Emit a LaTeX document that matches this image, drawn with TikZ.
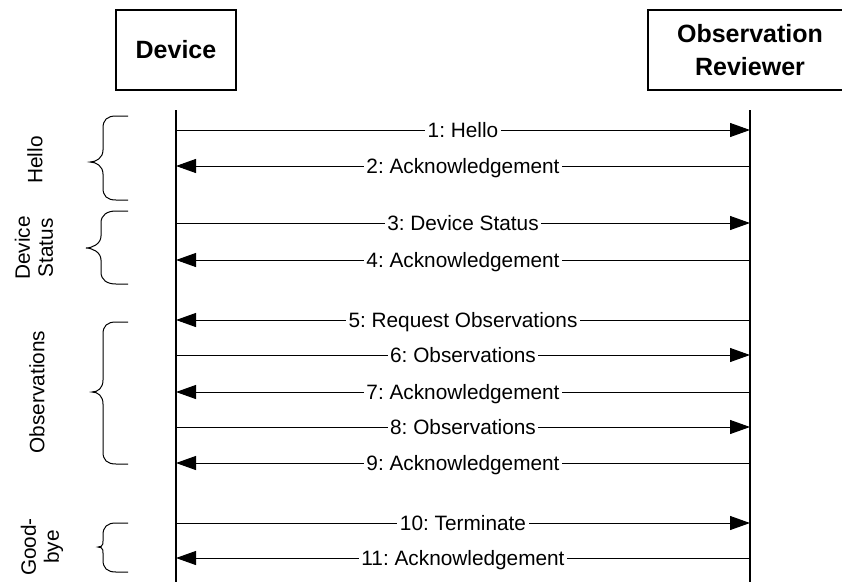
\documentclass[tikz,border=0pt]{standalone}
\usepackage{fontspec}
\setmainfont{Liberation Sans}
\usetikzlibrary{arrows.meta}
\frenchspacing
\tikzset{
 actor/.style={draw, line width=1.2pt, minimum height=80pt, font=\fontsize{25}{33}\selectfont\bfseries, align=center, inner sep=0pt},
 life/.style={line width=1.2pt},
 msg/.style={line width=1pt, -{Triangle[length=20pt,width=14pt]}},
 lbl/.style={fill=white, inner xsep=2.5pt, inner ysep=1pt, font=\fontsize{20.8}{24}\selectfont\frenchspacing, anchor=base, yshift=-7.4pt},
 grp/.style={rotate=90, align=center, font=\fontsize{20.8}{23}\selectfont},
 brc/.style={line width=1pt}
}
\newcommand\drawbrace[5]{%
 \draw[brc] (128,#1) -- (116,#1) .. controls (107,#1) and (#4,#1+4) .. (#4,#1+12) -- (#4,#2-12) .. controls (#4,#2-4) and (#5+6,#2) .. (#5,#2) .. controls (#5+6,#2) and (#4,#2+4) .. (#4,#2+12) -- (#4,#3-12) .. controls (#4,#3-4) and (107,#3) .. (116,#3) -- (128,#3);}
\begin{document}
\begin{tikzpicture}[x=1pt,y=-1pt]
\useasboundingbox (0,0) rectangle (842,582);
\node[actor, minimum width=120pt] (dev) at (176,50) {Device};
\node[actor, minimum width=204pt] (rev) at (750,50) {Observation\\Reviewer};
\coordinate (dtop) at (176,110); \coordinate (dbot) at (176,582);
\coordinate (rtop) at (750,110); \coordinate (rbot) at (750,582);
\draw[life] (dtop) -- (dbot);
\draw[life] (rtop) -- (rbot);
\foreach \i/\y in {1/130,2/166,3/223,4/260,5/320,6/355,7/392,8/427,9/463,10/523,11/558}{
  \coordinate (d\i) at (176,\y);
  \coordinate (r\i) at (750,\y);
}
\draw[msg] (d1) -- node[lbl] (m1) {1: Hello} (r1);
\draw[msg] (r2) -- node[lbl] (m2) {2: Acknowledgement} (d2);
\draw[msg] (d3) -- node[lbl] (m3) {3: Device Status} (r3);
\draw[msg] (r4) -- node[lbl] (m4) {4: Acknowledgement} (d4);
\draw[msg] (r5) -- node[lbl] (m5) {5: Request Observations} (d5);
\draw[msg] (d6) -- node[lbl] (m6) {6: Observations} (r6);
\draw[msg] (r7) -- node[lbl] (m7) {7: Acknowledgement} (d7);
\draw[msg] (d8) -- node[lbl] (m8) {8: Observations} (r8);
\draw[msg] (r9) -- node[lbl] (m9) {9: Acknowledgement} (d9);
\draw[msg] (d10) -- node[lbl] (m10) {10: Terminate} (r10);
\draw[msg] (r11) -- node[lbl] (m11) {11: Acknowledgement} (d11);
\drawbrace{116}{162}{200}{103}{90}
\drawbrace{211}{248}{284}{101}{86}
\drawbrace{322}{392}{464}{103}{92}
\drawbrace{523}{547}{572}{103}{98}
\node[grp] (g1) at (35,160) {Hello};
\node[grp] (g2) at (34,248) {Device\\Status};
\node[grp] (g3) at (37,392) {Observations};
\node[grp] (g4) at (42,547) {Good-\\bye};
\end{tikzpicture}
\end{document}
